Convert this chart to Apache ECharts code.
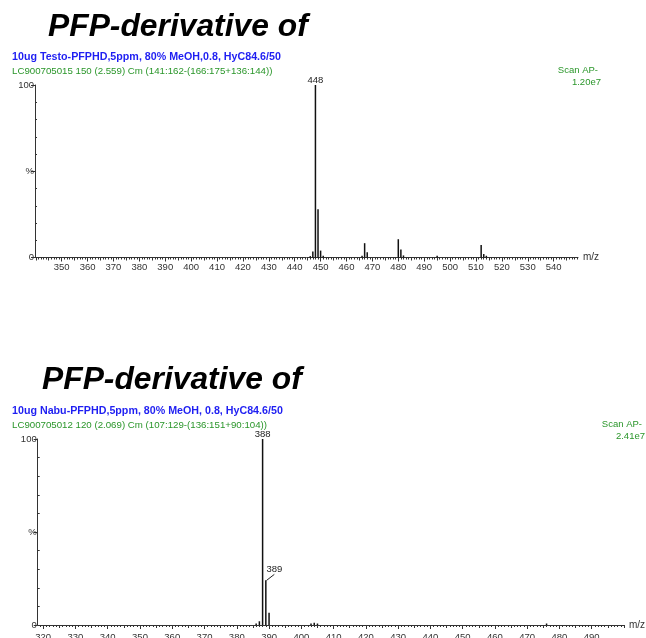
<!DOCTYPE html>
<html>
<head>
<meta charset="utf-8">
<script src="https://cdn.jsdelivr.net/npm/echarts@6/dist/echarts.min.js"></script>
<style>
  html, body { margin: 0; padding: 0; background: #fff; }
  #main { width: 646px; height: 638px; }
</style>
</head>
<body>
<div id="main"></div>
<script>
// top spectrum (Testo-PFPHD)
const topMz = [446, 447, 448, 449, 450, 451, 466, 467, 468, 480, 481, 482, 495, 512, 513, 514]
const topInt = [0.8, 3.5, 100, 28, 4, 1, 1, 8.3, 3, 10.6, 4.6, 1.2, 1, 7.2, 2, 1]
const topLabeled = [448]
const topTicks = [350, 360, 370, 380, 390, 400, 410, 420, 430, 440, 450, 460, 470, 480, 490, 500, 510, 520, 530, 540]

// bottom spectrum (Nabu-PFPHD)
const botMz = [386, 387, 388, 389, 390, 403, 404, 405, 476]
const botInt = [0.8, 2, 100, 24, 6.6, 0.8, 1.2, 0.8, 0.8]
const botLabeled = [388, 389]
const botLeader = 389 // label pushed aside with a guide line
const botTicks = [320, 330, 340, 350, 360, 370, 380, 390, 400, 410, 420, 430, 440, 450, 460, 470, 480, 490]

const yLabels = [0, 50, 100]
const yMinor = [10, 20, 30, 40, 60, 70, 80, 90]

const FONT = 'Liberation Sans'
const AXIS = '#333'
const GREEN = '#2a962a'
const BLUE = '#1f1ff2'

function range(a, b, step) {
	const out = []
	for (let v = Math.ceil(a / step) * step; v <= b; v += step) out.push(v)
	return out
}

function peaks(mz, inten, labeled, leader) {
	return mz.map((m, i) => {
		const item = { value: [m, inten[i]] }
		if (labeled.includes(m)) {
			item.label = { show: true }
			if (m === leader) item.label.padding = [0, 0, 0, 5]
		}
		return item
	})
}

// three stacked x axes per grid: 10s (labels), 5s, units
function xAxes(grid, min, max, ticks, labelMargin) {
	const base = {
		gridIndex: grid, type: 'value', min: min, max: max, position: 'bottom',
		splitLine: { show: false }
	}
	return [
		Object.assign({}, base, {
			name: 'm/z', nameLocation: 'end', nameGap: 5,
			nameTextStyle: { color: AXIS, fontSize: 10, fontFamily: FONT },
			axisLine: { show: true, lineStyle: { color: AXIS, width: 1 } },
			axisTick: { show: true, customValues: ticks, length: 4, lineStyle: { color: AXIS } },
			axisLabel: { show: true, customValues: ticks, margin: labelMargin, color: AXIS, fontSize: 9.5, fontFamily: FONT }
		}),
		Object.assign({}, base, {
			axisLine: { show: false },
			axisTick: { show: true, customValues: range(min, max, 1), length: 2, lineStyle: { color: AXIS } },
			axisLabel: { show: false }
		}),
		Object.assign({}, base, {
			axisLine: { show: false },
			axisTick: { show: true, customValues: range(min, max, 5), length: 3, lineStyle: { color: AXIS } },
			axisLabel: { show: false }
		})
	]
}

function yAxes(grid) {
	return [
		{
			gridIndex: grid, type: 'value', min: 0, max: 100, position: 'left',
			splitLine: { show: false },
			axisLine: { show: true, lineStyle: { color: AXIS } },
			axisTick: { show: true, customValues: yLabels, length: 4, lineStyle: { color: AXIS } },
			axisLabel: {
				show: true, customValues: yLabels, margin: 1, color: AXIS, fontSize: 9.5, fontFamily: FONT,
				formatter: v => (v === 50 ? '%' : String(v))
			}
		},
		{
			gridIndex: grid, type: 'value', min: 0, max: 100, position: 'left',
			splitLine: { show: false },
			axisLine: { show: false },
			axisTick: { show: true, inside: true, customValues: yMinor, length: 2, lineStyle: { color: AXIS } },
			axisLabel: { show: false }
		}
	]
}

const peakLabel = {
	position: 'top', distance: 0, color: '#222', fontSize: 9.5, fontFamily: FONT,
	formatter: p => String(p.value[0])
}

function heading(text, left, top) {
	return {
		text: text, left: left, top: top, padding: 0,
		textStyle: { fontSize: 31.8, fontWeight: 'bold', fontStyle: 'italic', color: '#000', fontFamily: FONT }
	}
}
function line(text, left, top, bold) {
	return {
		text: text, left: left, top: top, padding: 0,
		textStyle: bold
			? { fontSize: 10.7, fontWeight: 'bold', color: BLUE, fontFamily: FONT }
			: { fontSize: 9.7, fontWeight: 'normal', color: GREEN, fontFamily: FONT }
	}
}
function scan(text, right, top) {
	return {
		text: text, right: right, top: top, padding: 0,
		textStyle: { fontSize: 9.5, fontWeight: 'normal', color: GREEN, fontFamily: FONT }
	}
}

const option = {
	animation: false,
	backgroundColor: '#fff',
	title: [
		heading('PFP-derivative of', 48, 11),
		line('10ug Testo-PFPHD,5ppm, 80% MeOH,0.8, HyC84.6/50', 12, 52, true),
		line('LC900705015 150 (2.559) Cm (141:162-(166:175+136:144))', 12, 66.5, false),
		scan('Scan AP-', 48, 65.5),
		scan('1.20e7', 45, 77),
		heading('PFP-derivative of', 42, 364),
		line('10ug Nabu-PFPHD,5ppm, 80% MeOH, 0.8, HyC84.6/50', 12, 405.5, true),
		line('LC900705012 120 (2.069) Cm (107:129-(136:151+90:104))', 12, 420, false),
		scan('Scan AP-', 4, 419),
		scan('2.41e7', 1, 431)
	],
	grid: [
		{ left: 35, right: 68, top: 85, bottom: 380.5, outerBoundsMode: 'none', containLabel: false },
		{ left: 37.7, right: 22, top: 439, bottom: 13, outerBoundsMode: 'none', containLabel: false }
	],
	xAxis: [].concat(
		xAxes(0, 339.7, 549.4, topTicks, 4.5),
		xAxes(1, 318.3, 500, botTicks, 7)
	),
	yAxis: [].concat(yAxes(0), yAxes(1)),
	series: [
		{
			name: 'Testo', type: 'bar', xAxisIndex: 0, yAxisIndex: 0,
			barWidth: 1.5,
			itemStyle: { color: '#111' },
			label: Object.assign({ show: false }, peakLabel),
			data: peaks(topMz, topInt, topLabeled, null)
		},
		{
			name: 'Nabu', type: 'bar', xAxisIndex: 3, yAxisIndex: 2,
			barWidth: 1.5,
			itemStyle: { color: '#111' },
			label: Object.assign({ show: false }, peakLabel),
			labelLine: { show: true, lineStyle: { color: '#222', width: 1 } },
			labelLayout: params => {
				if (botMz[params.dataIndex] === botLeader) return { dx: 6, dy: -6 }
				return {}
			},
			data: peaks(botMz, botInt, botLabeled, botLeader)
		}
	]
}

const chart = echarts.init(document.getElementById('main'), null, { renderer: 'canvas' })
chart.setOption(option)
</script>
</body>
</html>
